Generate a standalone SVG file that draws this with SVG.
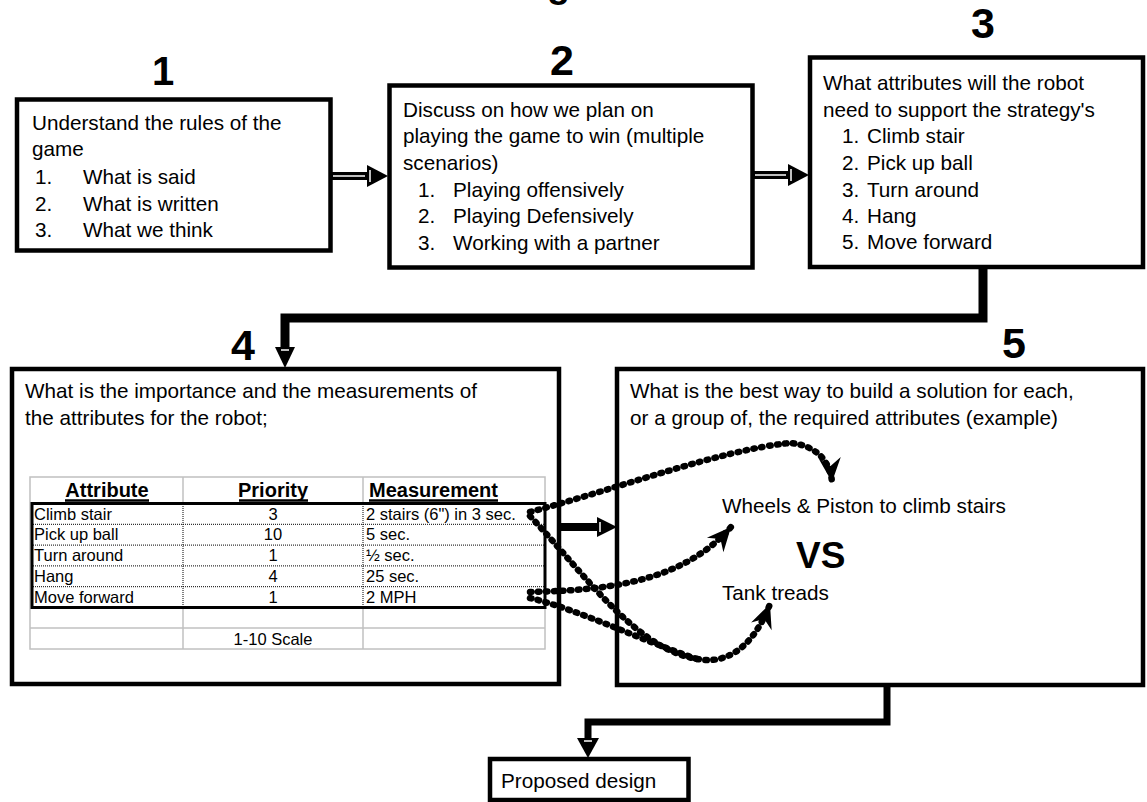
<svg xmlns="http://www.w3.org/2000/svg" width="1147" height="802" viewBox="0 0 1147 802">
<style>
.box{fill:#fff;stroke:#000;stroke-width:4.5}
.t{font-family:"Liberation Sans",Arial,sans-serif;font-size:20.7px;fill:#000}
.num{font-family:"Liberation Sans",Arial,sans-serif;font-weight:bold;font-size:43px;text-anchor:middle;fill:#000}
.cell{font-family:"Liberation Sans",Arial,sans-serif;font-size:16.5px;fill:#000}
.hdr{font-family:"Liberation Sans",Arial,sans-serif;font-weight:bold;font-size:20px;fill:#000}
.mid{text-anchor:middle}
.grid{stroke:#c0c0c0;stroke-width:1.5;fill:none}
.dotln{stroke:#000;stroke-width:1;stroke-dasharray:1 1;fill:none}
.ul{stroke:#000;stroke-width:2.5}
.wire{fill:none;stroke:#000;stroke-width:9;stroke-linejoin:miter}
.dots{fill:none;stroke:#000;stroke-width:6.5;stroke-dasharray:1.5 6.5;stroke-linecap:round}
.head{fill:#000}
.hl{stroke:#fff;stroke-width:1.5}
</style>
<defs>
<marker id="stealth" markerUnits="userSpaceOnUse" viewBox="-26 -13 28 26" refX="0" refY="0" markerWidth="28" markerHeight="26" orient="auto">
<path d="M0,0 L-24,-11 L-16,0 L-24,11 Z" fill="#000"/>
</marker>
</defs>
<rect width="1147" height="802" fill="#fff"/>
<text x="547" y="-3" font-family="Liberation Sans, Arial, sans-serif" font-weight="bold" font-size="38">g</text>

<g id="node1">
<text class="num" x="163" y="85" style="font-size:40px">1</text>
<rect class="box" x="17" y="99.5" width="313.5" height="151"/>
<text class="t" x="32" y="130">Understand the rules of the</text>
<text class="t" x="32" y="156">game</text>
<text class="t" x="35" y="184">1.</text><text class="t" x="83" y="184">What is said</text>
<text class="t" x="35" y="211">2.</text><text class="t" x="83" y="211">What is written</text>
<text class="t" x="35" y="237">3.</text><text class="t" x="83" y="237">What we think</text>
</g>

<g id="node2">
<text class="num" x="562" y="75">2</text>
<rect class="box" x="389.5" y="85.5" width="363" height="182"/>
<text class="t" x="403" y="117">Discuss on how we plan on</text>
<text class="t" x="403" y="143">playing the game to win (multiple</text>
<text class="t" x="403" y="170">scenarios)</text>
<text class="t" x="418" y="197">1.</text><text class="t" x="453" y="197">Playing offensively</text>
<text class="t" x="418" y="223">2.</text><text class="t" x="453" y="223">Playing Defensively</text>
<text class="t" x="418" y="250">3.</text><text class="t" x="453" y="250">Working with a partner</text>
</g>

<g id="node3">
<text class="num" x="983" y="38">3</text>
<rect class="box" x="810" y="57.5" width="333" height="209.5"/>
<text class="t" x="823" y="90">What attributes will the robot</text>
<text class="t" x="823" y="117">need to support the strategy's</text>
<text class="t" x="842" y="143">1.</text><text class="t" x="867" y="143">Climb stair</text>
<text class="t" x="842" y="170">2.</text><text class="t" x="867" y="170">Pick up ball</text>
<text class="t" x="842" y="197">3.</text><text class="t" x="867" y="197">Turn around</text>
<text class="t" x="842" y="223">4.</text><text class="t" x="867" y="223">Hang</text>
<text class="t" x="842" y="249">5.</text><text class="t" x="867" y="249">Move forward</text>
</g>

<g id="node4">
<text class="num" x="243" y="360">4</text>
<rect class="box" x="12" y="369" width="547" height="315"/>
<text class="t" x="25" y="398">What is the importance and the measurements of</text>
<text class="t" x="25" y="425">the attributes for the robot;</text>
<g id="table">
<rect x="30" y="477" width="515" height="172" fill="#fff" class="grid"/>
<line class="grid" x1="183" y1="477" x2="183" y2="503"/>
<line class="grid" x1="363" y1="477" x2="363" y2="503"/>
<line class="grid" x1="183" y1="607" x2="183" y2="649"/>
<line class="grid" x1="363" y1="607" x2="363" y2="649"/>
<line class="grid" x1="30" y1="628" x2="545" y2="628"/>
<line class="dotln" x1="183" y1="504" x2="183" y2="607"/>
<line class="dotln" x1="363" y1="504" x2="363" y2="607"/>
<line class="dotln" x1="33" y1="524.3" x2="544" y2="524.3"/>
<line class="dotln" x1="33" y1="545.1" x2="544" y2="545.1"/>
<line class="dotln" x1="33" y1="565.9" x2="544" y2="565.9"/>
<line class="dotln" x1="33" y1="586.7" x2="544" y2="586.7"/>
<rect x="32" y="503.5" width="513" height="104" fill="none" stroke="#000" stroke-width="3"/>
<text class="hdr mid" x="107" y="497">Attribute</text>
<text class="hdr mid" x="273" y="497">Priority</text>
<text class="hdr" x="369" y="497">Measurement</text>
<line class="ul" x1="65" y1="500.5" x2="149" y2="500.5"/>
<line class="ul" x1="239" y1="500.5" x2="308" y2="500.5"/>
<line class="ul" x1="369" y1="500.5" x2="498" y2="500.5"/>
<text class="cell" x="34" y="519.5">Climb stair</text>
<text class="cell" x="34" y="540.3">Pick up ball</text>
<text class="cell" x="34" y="561.1">Turn around</text>
<text class="cell" x="34" y="581.9">Hang</text>
<text class="cell" x="34" y="602.7">Move forward</text>
<text class="cell mid" x="273" y="519.5">3</text>
<text class="cell mid" x="273" y="540.3">10</text>
<text class="cell mid" x="273" y="561.1">1</text>
<text class="cell mid" x="273" y="581.9">4</text>
<text class="cell mid" x="273" y="602.7">1</text>
<text class="cell" x="366" y="519.5">2 stairs (6") in 3 sec.</text>
<text class="cell" x="366" y="540.3">5 sec.</text>
<text class="cell" x="366" y="561.1">½ sec.</text>
<text class="cell" x="366" y="581.9">25 sec.</text>
<text class="cell" x="366" y="602.7">2 MPH</text>
<text class="cell mid" x="273" y="645">1-10 Scale</text>
</g>
</g>

<g id="node5">
<text class="num" x="1014" y="358">5</text>
<rect class="box" x="617" y="369" width="526" height="316"/>
<text class="t" x="630" y="398">What is the best way to build a solution for each,</text>
<text class="t" x="630" y="425">or a group of, the required attributes (example)</text>
<text class="t" x="722" y="513">Wheels &amp; Piston to climb stairs</text>
<text x="796" y="568" font-family="Liberation Sans, Arial, sans-serif" font-weight="bold" font-size="37">VS</text>
<text class="t" x="722" y="600">Tank treads</text>
</g>

<g id="node6">
<rect class="box" x="490" y="759" width="198.5" height="41"/>
<text class="t" x="501" y="788">Proposed design</text>
</g>

<g id="connectors">
<rect x="330" y="172" width="38" height="8" fill="#000"/>
<line class="hl" x1="333" y1="176" x2="365" y2="176"/>
<polygon class="head" points="367,165 388,176 367,187"/>
<line class="hl" x1="370" y1="170" x2="370" y2="182"/>

<rect x="752" y="171" width="37" height="8" fill="#000"/>
<line class="hl" x1="755" y1="175" x2="786" y2="175"/>
<polygon class="head" points="788,164 809,175 788,186"/>
<line class="hl" x1="791" y1="169" x2="791" y2="181"/>

<rect x="559" y="523" width="39" height="8" fill="#000"/>
<polygon class="head" points="597,517 617,527 597,537"/>
<line class="hl" x1="600" y1="522" x2="600" y2="532"/>

<polyline class="wire" points="983,267 983,318 285,318 285,348"/>
<polygon class="head" points="275,347 295,347 285,368"/>
<line class="hl" x1="281" y1="350" x2="289" y2="350"/>

<polyline class="wire" style="stroke-width:7" points="887,685 887,722 588,722 588,739"/>
<polygon class="head" points="577,738 599,738 588,758"/>
<line class="hl" x1="584" y1="741" x2="592" y2="741"/>

<path class="dots" d="M530,512 C620,488 720,450 790,443 C815,445 830,460 832,482" marker-end="url(#stealth)"/>
<path class="dots" d="M530,516 C590,580 640,655 705,660 C740,662 760,630 770,604" marker-end="url(#stealth)"/>
<path class="dots" d="M530,598 C580,610 640,640 700,660"/>
<path class="dots" d="M530,592 C600,590 680,585 731,527" marker-end="url(#stealth)"/>
</g>
</svg>
